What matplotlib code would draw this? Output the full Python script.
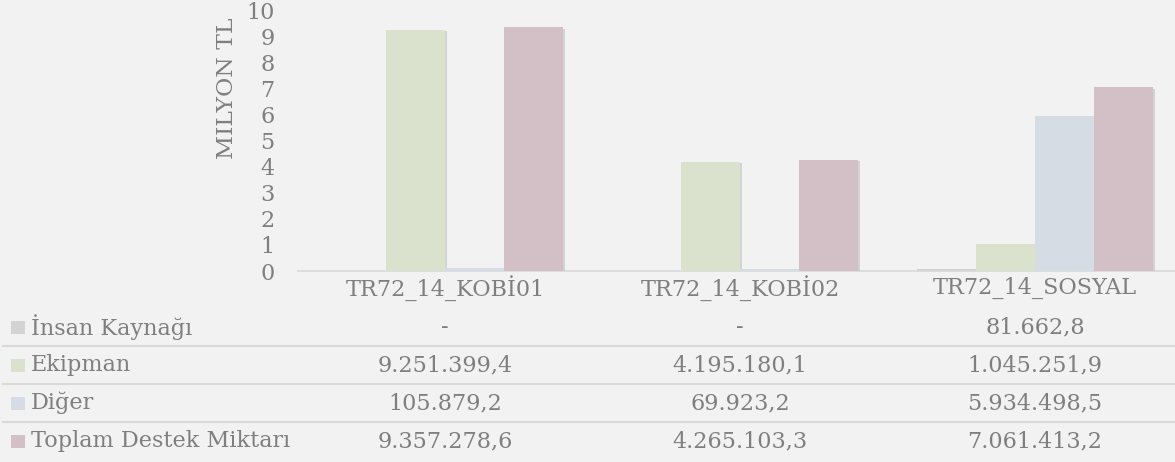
import matplotlib
matplotlib.use("Agg")
import matplotlib.pyplot as plt
import matplotlib.transforms as mtransforms
import matplotlib.patheffects as pe
from matplotlib.patches import Rectangle

categories = ["TR72_14_KOBİ01", "TR72_14_KOBİ02", "TR72_14_SOSYAL"]
series_names = ["İnsan Kaynağı", "Ekipman", "Diğer", "Toplam Destek Miktarı"]
insan_kaynagi = [0.0, 0.0, 81662.8]
ekipman = [9251399.4, 4195180.1, 1045251.9]
diger = [105879.2, 69923.2, 5934498.5]
toplam = [9357278.6, 4265103.3, 7061413.2]
series_values = [insan_kaynagi, ekipman, diger, toplam]
colors = ["#d3d3d3", "#dae2ce", "#d5dce4", "#d2c0c6"]
yticks = list(range(0, 11))

TXT = "#7f7f7f"
BG = "#f2f2f2"
FONT = "DejaVu Serif"
FS = 16.1

W, H = 1175, 462
fig = plt.figure(figsize=(W / 100, H / 100), dpi=100, facecolor=BG)
plt.rcParams['font.family'] = [FONT, 'DejaVu Sans']

ax_left, ax_right = 297.5, 1182.5
ax_top, ax_bot = 10.3, 271.0
ax = fig.add_axes([ax_left / W, 1 - ax_bot / H, (ax_right - ax_left) / W, (ax_bot - ax_top) / H])
ax.set_facecolor(BG)

n = len(series_values)
bw = 0.2
xs = list(range(len(categories)))
for i, (vals, col) in enumerate(zip(series_values, colors)):
    off = (i - (n - 1) / 2) * bw
    bars = ax.bar([x + off for x in xs], [v / 1e6 for v in vals], width=bw, color=col,
                  zorder=3, linewidth=0)
    for b in bars:
        b.set_path_effects([pe.SimplePatchShadow(offset=(1.2, -1.2), shadow_rgbFace="#9a9a9a", alpha=0.35),
                            pe.Normal()])

ax.set_xlim(-0.5, len(categories) - 0.5)
ax.set_ylim(0, 10)
ax.set_yticks(yticks)
ax.set_yticklabels([str(t) for t in yticks], fontsize=FS, color=TXT, family=FONT)
ax.tick_params(axis="y", length=0, pad=16.5)
ax.set_xticks([])
for s in ["top", "right", "left"]:
    ax.spines[s].set_visible(False)
ax.spines["bottom"].set_color("#d9d9d9")
ax.spines["bottom"].set_linewidth(1.2)

# y label
fig.text(227 / W, 1 - 88 / H, "MILYON TL", rotation=90, ha="center", va="center",
         fontsize=FS + 0.8, color=TXT, family=FONT)

# data table
tr = mtransforms.blended_transform_factory(ax.transData, fig.transFigure)

def fy(py):
    return 1 - py / H

def fmt(v):
    if v == 0:
        return "-"
    s = f"{v:,.1f}"
    return s.replace(",", "X").replace(".", ",").replace("X", ".")

header_y = 288
row_ys = [327, 365, 403, 441]
line_ys = [346, 384, 422]

for x, c in zip(xs, categories):
    fig.text(x, fy(header_y), c, transform=tr, ha="center", va="center",
             fontsize=FS, color=TXT, family=FONT)

for ry, name, vals, col in zip(row_ys, series_names, series_values, colors):
    fig.patches.append(Rectangle((11 / W, fy(ry + 6.5)), 13.5 / W, 13 / H,
                                 transform=fig.transFigure, facecolor=col, edgecolor="none"))
    fig.text(31 / W, fy(ry), name, ha="left", va="center", fontsize=FS, color=TXT, family=FONT)
    for x, v in zip(xs, vals):
        fig.text(x, fy(ry), fmt(v), transform=tr, ha="center", va="center",
                 fontsize=FS, color=TXT, family=FONT)

for ly in line_ys:
    fig.add_artist(plt.Line2D([3 / W, 1.0], [fy(ly), fy(ly)], transform=fig.transFigure,
                              color="#d9d9d9", linewidth=1.5))

fig.savefig("out.png", dpi=100, facecolor=BG)
